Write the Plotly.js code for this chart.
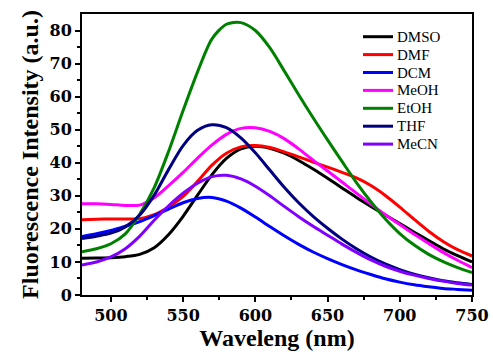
<!DOCTYPE html>
<html>
<head>
<meta charset="utf-8">
<script src="https://cdn.plot.ly/plotly-3.0.1.min.js"></script>
<style>html,body{margin:0;padding:0;background:#fff;}#chart{width:493px;height:356px;}</style>
</head>
<body>
<div id="chart"></div>
<script>
const wavelength = [480,490,500,510,520,530,540,550,560,570,580,590,600,610,620,630,640,650,660,670,680,690,700,710,720,730,740,750];
const dmso = [11.1,11.2,11.3,11.6,12.3,14.3,18.3,23.8,30.2,36.4,41.3,44.2,45.0,44.4,42.9,40.7,38.1,35.3,32.4,29.5,26.8,24.2,21.6,19.0,16.5,14.0,11.9,10.0];
const dmf = [22.8,22.9,23.0,23.0,23.1,24.3,26.6,29.8,34.4,39.3,42.9,44.8,45.2,44.6,43.3,41.8,40.2,38.7,37.1,35.4,33.1,30.1,26.6,22.9,19.3,16.2,13.7,11.8];
const dcm = [17.7,18.5,19.5,20.8,22.2,24.0,26.0,27.9,29.2,29.5,28.4,26.3,23.6,20.7,17.9,15.3,13.0,11.0,9.2,7.6,6.2,4.9,3.9,3.1,2.5,2.0,1.7,1.4];
const meoh = [27.6,27.6,27.4,27.1,27.2,29.4,33.1,37.1,41.4,45.4,48.6,50.4,50.6,49.5,47.3,44.2,40.8,37.5,34.2,30.8,27.5,24.3,21.3,18.4,15.6,12.9,10.5,8.3];
const etoh = [13.1,14.0,15.5,18.5,24.5,32.5,43.5,55.8,67.5,77.5,81.9,82.4,80.0,74.8,67.8,60.6,53.6,46.9,40.4,34.0,28.2,23.0,18.6,15.1,12.3,10.1,8.3,6.8];
const thf = [17.1,17.8,18.7,20.6,24.2,30.2,38.0,45.2,49.8,51.5,50.6,47.5,43.0,37.8,32.6,27.9,23.8,20.2,16.9,14.0,11.5,9.4,7.7,6.3,5.2,4.3,3.7,3.2];
const mecn = [9.1,10.0,11.5,14.0,17.8,22.6,27.0,30.8,33.8,35.8,36.2,35.1,32.9,30.0,26.8,23.7,20.8,18.1,15.4,12.9,10.6,8.7,7.2,6.0,5.0,4.2,3.5,3.0];

const seriesNames = ["DMSO","DMF","DCM","MeOH","EtOH","THF","MeCN"];
const seriesData = [dmso,dmf,dcm,meoh,etoh,thf,mecn];
const seriesColors = ["#000000","#ff0000","#0000ff","#ff00ff","#008000","#000080","#8000ff"];
const xTicks = [500,550,600,650,700,750];
const yTicks = [0,10,20,30,40,50,60,70,80];

const traces = seriesNames.map((n,i)=>({
  x: wavelength, y: seriesData[i], name: n, type: "scatter", mode: "lines", showlegend: false,
  line: {color: seriesColors[i], width: 3, shape: "spline", smoothing: 0.8}
}));

// legend drawn as shapes + text annotations (paper coordinates)
const plotL = 82, plotW = 390, plotT = 14, plotH = 281;
const legLineX0 = 363, legLineX1 = 393, legTextX = 396, legRow0 = 36.7, legRowStep = 17.9;
const shapes = [], annotations = [];
seriesNames.forEach((n,i)=>{
  const py = legRow0 + legRowStep*i;
  const yp = 1 - (py - plotT)/plotH;
  shapes.push({type:"line", xref:"paper", yref:"paper", x0:(legLineX0-plotL)/plotW, x1:(legLineX1-plotL)/plotW, y0:yp, y1:yp,
    line:{color:seriesColors[i], width:3}});
  annotations.push({xref:"paper", yref:"paper", x:(legTextX-plotL)/plotW, y:yp, xanchor:"left", yanchor:"middle",
    text:n, showarrow:false, borderpad:0,
    font:{family:"Liberation Serif", size:15, color:"#000"}});
});

const tickFont = {family: "DejaVu Serif", size: 16, color: "#000", weight: 700};
const titleFont = {family: "Times New Roman", size: 24, color: "#000", weight: 700};

const layout = {
  width: 493, height: 356,
  margin: {l: 82, r: 21, t: 14, b: 61},
  paper_bgcolor: "#fff", plot_bgcolor: "#fff",
  showlegend: false,
  shapes: shapes, annotations: annotations,
  xaxis: {
    range: [480, 750], tickvals: xTicks, ticks: "outside", ticklen: 5, tickwidth: 2, tickcolor: "#000",
    showline: true, linecolor: "#000", linewidth: 2, mirror: true, showgrid: false, zeroline: false,
    tickfont: tickFont,
    minor: {tickvals: [525,575,625,675,725], ticks: "outside", ticklen: 3, tickwidth: 2, tickcolor: "#000", showgrid: false},
    title: {text: "Waveleng (nm)", font: titleFont, standoff: 3}
  },
  yaxis: {
    range: [0, 85], tickvals: yTicks, ticks: "outside", ticklen: 5, tickwidth: 2, tickcolor: "#000",
    showline: true, linecolor: "#000", linewidth: 2, mirror: true, showgrid: false, zeroline: false,
    tickfont: tickFont,
    minor: {tickvals: [5,15,25,35,45,55,65,75], ticks: "outside", ticklen: 3, tickwidth: 2, tickcolor: "#000", showgrid: false},
    title: {text: "Fluorescence Intensity (a.u.)", font: titleFont, standoff: 4}
  }
};

Plotly.newPlot("chart", traces, layout, {displayModeBar: false, staticPlot: true});
</script>
</body>
</html>
